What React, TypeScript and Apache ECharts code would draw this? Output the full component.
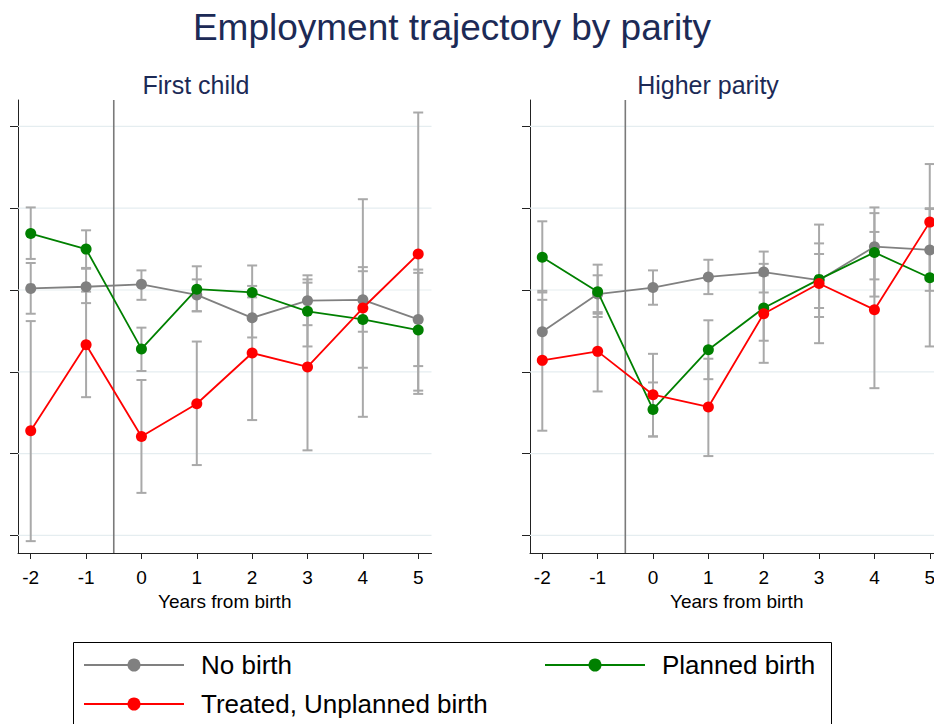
import React, { useEffect, useRef } from "react";
import * as echarts from "echarts";

// ---------------- data ----------------
const years = [-2, -1, 0, 1, 2, 3, 4, 5];
const yTicks = [-0.3, -0.2, -0.1, 0, 0.1, 0.2];
const birthLine = -0.5;

const chartTitle = "Employment trajectory by parity";
const panelTitles = ["First child", "Higher parity"];
const xAxisName = "Years from birth";
const seriesNames = ["No birth", "Planned birth", "Treated, Unplanned birth"];

// First child
const firstNoBirth = [0.002, 0.004, 0.007, -0.006, -0.034, -0.013, -0.012, -0.036];
const firstNoBirthLo = [-0.029, -0.016, -0.012, -0.026, -0.058, -0.043, -0.051, -0.093];
const firstNoBirthHi = [0.033, 0.026, 0.024, 0.013, -0.009, 0.013, 0.028, 0.021];
const firstPlanned = [0.069, 0.050, -0.072, 0.001, -0.003, -0.026, -0.036, -0.049];
const firstPlannedLo = [0.038, 0.027, -0.099, -0.026, -0.036, -0.069, -0.095, -0.123];
const firstPlannedHi = [0.101, 0.073, -0.046, 0.029, 0.030, 0.018, 0.023, 0.025];
const firstUnplanned = [-0.172, -0.067, -0.179, -0.139, -0.077, -0.094, -0.022, 0.044];
const firstUnplannedLo = [-0.307, -0.131, -0.248, -0.214, -0.159, -0.196, -0.155, -0.127];
const firstUnplannedHi = [-0.038, -0.002, -0.110, -0.063, 0.005, 0.009, 0.111, 0.217];

// Higher parity
const higherNoBirth = [-0.051, -0.005, 0.003, 0.016, 0.022, 0.012, 0.053, 0.049];
const higherNoBirthLo = [-0.088, -0.029, -0.018, -0.005, -0.003, -0.022, 0.013, -0.001];
const higherNoBirthHi = [-0.012, 0.018, 0.024, 0.037, 0.047, 0.044, 0.094, 0.099];
const higherPlanned = [0.040, -0.002, -0.146, -0.073, -0.022, 0.013, 0.046, 0.015];
const higherPlannedLo = [-0.003, -0.033, -0.179, -0.109, -0.062, -0.033, -0.008, -0.069];
const higherPlannedHi = [0.084, 0.031, -0.113, -0.037, 0.018, 0.057, 0.101, 0.100];
const higherUnplanned = [-0.086, -0.075, -0.128, -0.143, -0.029, 0.008, -0.024, 0.083];
const higherUnplannedLo = [-0.172, -0.124, -0.179, -0.203, -0.089, -0.065, -0.120, 0.012];
const higherUnplannedHi = [-0.001, -0.027, -0.078, -0.084, 0.032, 0.080, 0.071, 0.154];

// ---------------- styling ----------------
const FONT = "'Liberation Sans', Arial, Helvetica, sans-serif";
const COLORS = ["#808080", "#008000", "#ff0000"];
const CI_COLOR = "#a9a9a9";
const GRID_COLOR = "#e5edf0";
const TITLE_COLOR = "#1c2a56";

const panels = [
  {
    values: [firstNoBirth, firstPlanned, firstUnplanned],
    lo: [firstNoBirthLo, firstPlannedLo, firstUnplannedLo],
    hi: [firstNoBirthHi, firstPlannedHi, firstUnplannedHi],
  },
  {
    values: [higherNoBirth, higherPlanned, higherUnplanned],
    lo: [higherNoBirthLo, higherPlannedLo, higherUnplannedLo],
    hi: [higherNoBirthHi, higherPlannedHi, higherUnplannedHi],
  },
];

function buildOption() {
  const grids = [
    { left: 18, top: 100, width: 413.5, height: 453, outerBoundsMode: "none", containLabel: false },
    { left: 530, top: 100, width: 413.5, height: 453, outerBoundsMode: "none", containLabel: false },
  ];
  const xRanges = [
    [-2.23, 5.24],
    [-2.222, 5.248],
  ];

  const xAxes = grids.map((_, i) => ({
    type: "value",
    gridIndex: i,
    min: xRanges[i][0],
    max: xRanges[i][1],
    name: xAxisName,
    nameLocation: "middle",
    nameGap: 31,
    nameTextStyle: { color: "#000", fontSize: 19, fontFamily: FONT },
    axisLine: { show: true, onZero: false, lineStyle: { color: "#222", width: 1 } },
    axisTick: { show: true, length: 6, customValues: years, lineStyle: { color: "#222" } },
    axisLabel: {
      show: true,
      customValues: years,
      margin: 15,
      color: "#000",
      fontSize: 19,
      fontFamily: FONT,
      formatter: (v: number) => String(v),
    },
    splitLine: { show: false },
  }));

  const yAxes = grids.map((_, i) => ({
    type: "value",
    gridIndex: i,
    min: -0.3215,
    max: 0.2323,
    axisLine: { show: true, onZero: false, lineStyle: { color: "#222", width: 1 } },
    axisTick: { show: true, length: 8, customValues: yTicks, lineStyle: { color: "#222" } },
    axisLabel: { show: false },
    splitLine: { show: false },
  }));

  const series: any[] = [];

  panels.forEach((panel, pi) => {
    // grid lines
    series.push({
      type: "custom",
      xAxisIndex: pi,
      yAxisIndex: pi,
      silent: true,
      z: 1,
      encode: { y: 0 },
      data: yTicks.map((v) => [v]),
      renderItem: (params: any, api: any) => {
        const cs = params.coordSys;
        const p = api.coord([0, api.value(0)]);
        return {
          type: "line",
          shape: { x1: cs.x, y1: p[1], x2: cs.x + cs.width, y2: p[1] },
          style: { stroke: GRID_COLOR, lineWidth: 1.2 },
        };
      },
    });
    // vertical line at birth
    series.push({
      type: "custom",
      xAxisIndex: pi,
      yAxisIndex: pi,
      silent: true,
      z: 2,
      encode: { x: 0 },
      data: [[birthLine]],
      renderItem: (params: any, api: any) => {
        const cs = params.coordSys;
        const p = api.coord([api.value(0), 0]);
        return {
          type: "line",
          shape: { x1: p[0], y1: cs.y, x2: p[0], y2: cs.y + cs.height },
          style: { stroke: "#7a7a7a", lineWidth: 1.6 },
        };
      },
    });
    // confidence intervals
    panel.values.forEach((_, si) => {
      series.push({
        type: "custom",
        name: seriesNames[si] + " CI",
        xAxisIndex: pi,
        yAxisIndex: pi,
        silent: true,
        z: 3,
        clip: false,
        encode: { x: 0, y: [1, 2] },
        data: years.map((yr, k) => [yr, panel.lo[si][k], panel.hi[si][k]]),
        renderItem: (params: any, api: any) => {
          const x = api.value(0);
          const a = api.coord([x, api.value(1)]);
          const b = api.coord([x, api.value(2)]);
          const cw = 5;
          const st = { stroke: CI_COLOR, lineWidth: 2 };
          return {
            type: "group",
            children: [
              { type: "line", shape: { x1: a[0], y1: a[1], x2: b[0], y2: b[1] }, style: st },
              { type: "line", shape: { x1: a[0] - cw, y1: a[1], x2: a[0] + cw, y2: a[1] }, style: st },
              { type: "line", shape: { x1: b[0] - cw, y1: b[1], x2: b[0] + cw, y2: b[1] }, style: st },
            ],
          };
        },
      });
    });
    // lines
    panel.values.forEach((vals, si) => {
      series.push({
        type: "line",
        name: seriesNames[si],
        xAxisIndex: pi,
        yAxisIndex: pi,
        z: 4 + si,
        symbol: "circle",
        symbolSize: 11,
        clip: false,
        lineStyle: { color: COLORS[si], width: 1.8 },
        itemStyle: { color: COLORS[si] },
        data: years.map((yr, k) => [yr, vals[k]]),
      });
    });
  });

  // legend & titles as graphics
  const legendRows = [
    { x: 84, y: 665, si: 0 },
    { x: 545, y: 665, si: 1 },
    { x: 84, y: 704, si: 2 },
  ];
  const graphic: any[] = [
    {
      type: "text",
      x: 452,
      y: 27,
      style: {
        text: chartTitle,
        fill: TITLE_COLOR,
        fontSize: 37,
        fontFamily: FONT,
        align: "center",
        verticalAlign: "middle",
      },
    },
    {
      type: "text",
      x: 196,
      y: 85,
      style: { text: panelTitles[0], fill: TITLE_COLOR, fontSize: 25, fontFamily: FONT, align: "center", verticalAlign: "middle" },
    },
    {
      type: "text",
      x: 708,
      y: 85,
      style: { text: panelTitles[1], fill: TITLE_COLOR, fontSize: 25, fontFamily: FONT, align: "center", verticalAlign: "middle" },
    },
    {
      type: "rect",
      shape: { x: 73.5, y: 642.5, width: 758, height: 100 },
      style: { fill: "#fff", stroke: "#000", lineWidth: 1 },
    },
  ];
  legendRows.forEach((r) => {
    graphic.push({
      type: "line",
      shape: { x1: r.x, y1: r.y, x2: r.x + 100, y2: r.y },
      style: { stroke: COLORS[r.si], lineWidth: 2 },
    });
    graphic.push({
      type: "circle",
      shape: { cx: r.x + 50, cy: r.y, r: 6.5 },
      style: { fill: COLORS[r.si] },
    });
    graphic.push({
      type: "text",
      x: r.x + 117,
      y: r.y,
      style: {
        text: seriesNames[r.si],
        fill: "#000",
        fontSize: 26,
        fontFamily: FONT,
        align: "left",
        verticalAlign: "middle",
      },
    });
  });

  return {
    animation: false,
    backgroundColor: "#ffffff",
    textStyle: { fontFamily: FONT },
    grid: grids,
    xAxis: xAxes,
    yAxis: yAxes,
    series,
    graphic,
  };
}

export default function App() {
  const ref = useRef<HTMLDivElement>(null);
  useEffect(() => {
    if (!ref.current) return;
    const chart = echarts.init(ref.current, undefined, { renderer: "svg" });
    chart.setOption(buildOption() as any);
    return () => chart.dispose();
  }, []);
  return (
    <div
      ref={ref}
      style={{ position: "fixed", left: 0, top: 0, width: 934, height: 724, background: "#fff" }}
    />
  );
}
